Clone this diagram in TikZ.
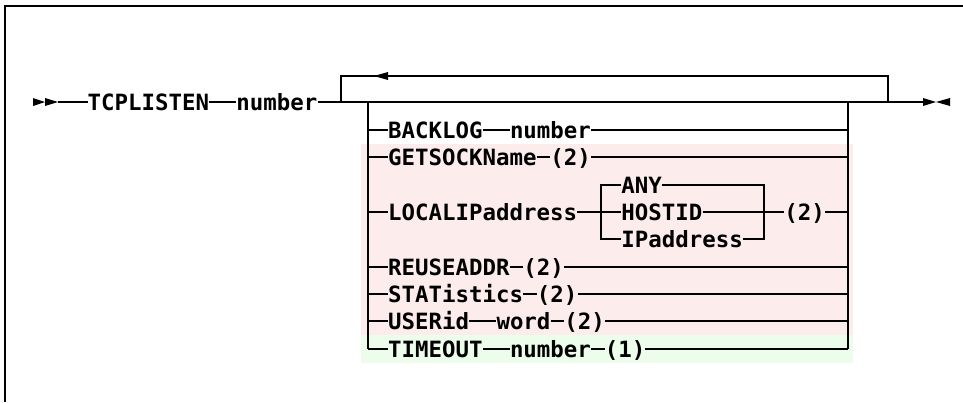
\documentclass[tikz,border=0pt]{standalone}
\usepackage{fontspec}
\newfontfamily\rr{DejaVu Sans Mono}
\usetikzlibrary{positioning}
\definecolor{pinkbg}{RGB}{253,236,236}
\definecolor{greenbg}{RGB}{236,253,236}
\begin{document}
\begin{tikzpicture}[x=1pt,y=-1pt,
  kw/.style={font={\rr\bfseries\fontsize{22.4pt}{22.4pt}\selectfont}, inner xsep=0pt, inner ysep=0pt,
             text height=16.2pt, text depth=0pt, anchor=west},
  ln/.style={line width=2pt},
  tri/.style={fill=black}]
\useasboundingbox (0,0) rectangle (963,402);
\fill[white] (0,0) rectangle (963,402);
% frame
\draw[line width=1.5pt] (5,402) -- (5,6) -- (963,6);
% bands
\fill[pinkbg] (361,143.5) rectangle (853,335);
\fill[greenbg] (361,335) rectangle (853,363);

% main row
\fill[tri] (33,98) -- (45,102) -- (33,106) -- cycle;
\fill[tri] (45,98) -- (58,102) -- (45,106) -- cycle;
\coordinate (start) at (58,102);
\node[kw] (tcp) at (87.5,102) {TCPLISTEN};
\node[kw, right=27pt of tcp] (num) {number};
\coordinate (lp) at (341,102);
\coordinate (lpt) at (341,76);
\coordinate (lrt) at (888,76);
\coordinate (lr) at (888,102);
\coordinate (bl) at (368,102);
\coordinate (br) at (848,102);
\coordinate (endc) at (923,102);
\draw[ln] (start) -- (tcp.west);
\draw[ln] (tcp.east) -- (num.west);
\draw[ln] (num.east) -- (endc);
\draw[ln] (lp) -- (lpt) -- (lrt) -- (lr);
\fill[tri] (374,76) -- (388,72) -- (388,80) -- cycle;
\fill[tri] (923,98) -- (936,102) -- (923,106) -- cycle;
\fill[tri] (950,98) -- (936,102) -- (950,106) -- cycle;

% branch verticals
\coordinate (blb) at (368,349);
\coordinate (brb) at (848,349);
\draw[ln] (bl) -- (blb);
\draw[ln] (br) -- (brb);

% row 1: BACKLOG number
\node[kw] (bk) at (388,130) {BACKLOG};
\node[kw, right=27pt of bk] (bkn) {number};
\draw[ln] (368,130) -- (bk.west);
\draw[ln] (bk.east) -- (bkn.west);
\draw[ln] (bkn.east) -- (848,130);

% row 2: GETSOCKName (2)
\node[kw] (gs) at (388,157) {GETSOCKName};
\node[kw, right=13.5pt of gs] (gs2) {(2)};
\draw[ln] (368,157) -- (gs.west);
\draw[ln] (gs.east) -- (gs2.west);
\draw[ln] (gs2.east) -- (848,157);

% row 3: LOCALIPaddress
\node[kw] (lip) at (388,212) {LOCALIPaddress};
\node[kw] (any) at (621.2,185) {ANY};
\node[kw] (host) at (621.2,212) {HOSTID};
\node[kw] (ipa) at (621.2,239) {IPaddress};
\node[kw] (lip2) at (784.2,212) {(2)};
\coordinate (clt) at (601,185);
\coordinate (clb) at (601,239);
\coordinate (crt) at (764,185);
\coordinate (crb) at (764,239);
\draw[ln] (368,212) -- (lip.west);
\draw[ln] (lip.east) -- (host.west);
\draw[ln] (host.east) -- (lip2.west);
\draw[ln] (lip2.east) -- (848,212);
\draw[ln] (any.west) -- (clt) -- (clb) -- (ipa.west);
\draw[ln] (any.east) -- (crt) -- (crb) -- (ipa.east);

% row 4: REUSEADDR (2)
\node[kw] (ru) at (388,267) {REUSEADDR};
\node[kw, right=13.5pt of ru] (ru2) {(2)};
\draw[ln] (368,267) -- (ru.west);
\draw[ln] (ru.east) -- (ru2.west);
\draw[ln] (ru2.east) -- (848,267);

% row 5: STATistics (2)
\node[kw] (st) at (388,294) {STATistics};
\node[kw, right=13.5pt of st] (st2) {(2)};
\draw[ln] (368,294) -- (st.west);
\draw[ln] (st.east) -- (st2.west);
\draw[ln] (st2.east) -- (848,294);

% row 6: USERid word (2)
\node[kw] (us) at (388,321) {USERid};
\node[kw, right=27pt of us] (usw) {word};
\node[kw, right=13.5pt of usw] (us2) {(2)};
\draw[ln] (368,321) -- (us.west);
\draw[ln] (us.east) -- (usw.west);
\draw[ln] (usw.east) -- (us2.west);
\draw[ln] (us2.east) -- (848,321);

% row 7: TIMEOUT number (1)
\node[kw] (to) at (388,349) {TIMEOUT};
\node[kw, right=27pt of to] (ton) {number};
\node[kw, right=13.5pt of ton] (to1) {(1)};
\draw[ln] (blb) -- (to.west);
\draw[ln] (to.east) -- (ton.west);
\draw[ln] (ton.east) -- (to1.west);
\draw[ln] (to1.east) -- (brb);
\end{tikzpicture}
\end{document}
